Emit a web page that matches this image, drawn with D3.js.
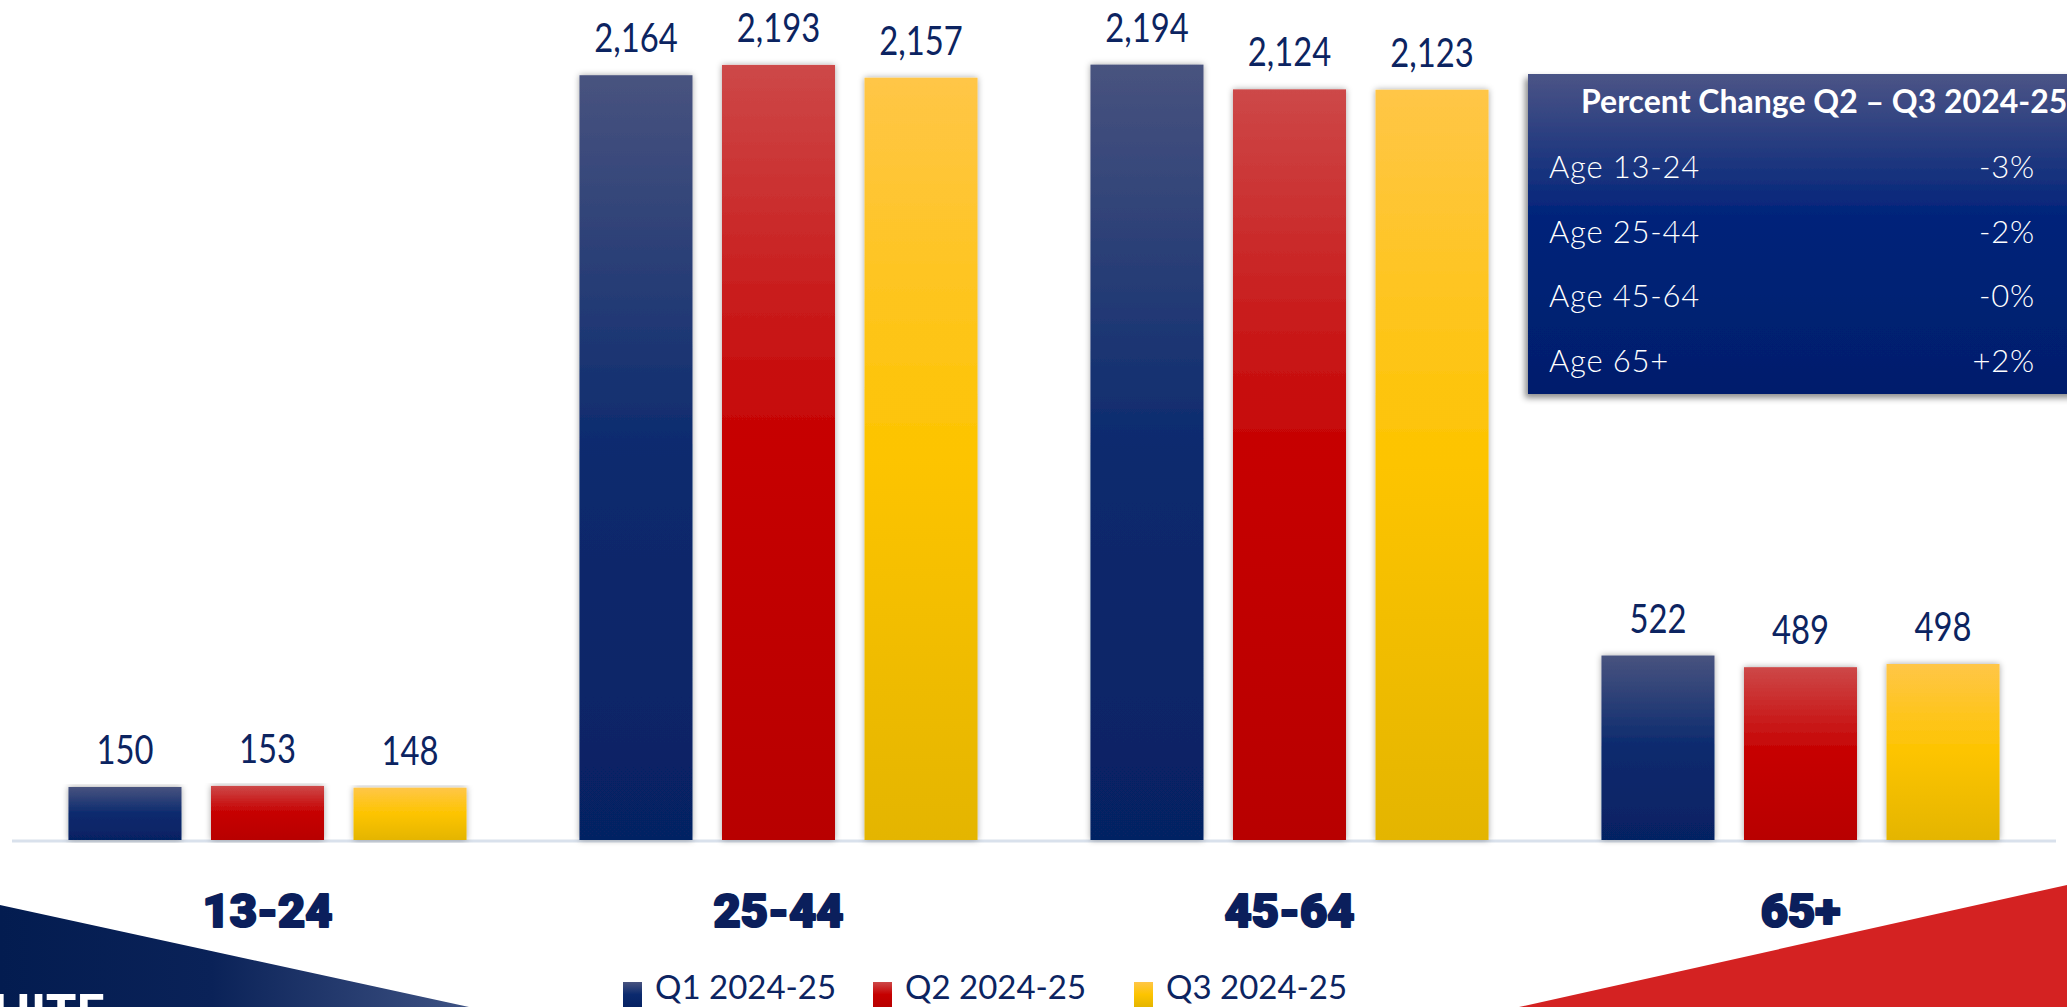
<!DOCTYPE html>
<html>
<head>
<meta charset="utf-8">
<script src="https://cdn.jsdelivr.net/npm/d3@7"></script>
<style>
  html, body { margin: 0; padding: 0; background: #ffffff; overflow: hidden; }
  svg { display: block; }
</style>
</head>
<body>
<svg id="chart" width="2067" height="1007"></svg>
<script>
// ---- data ----
const categories = ["13-24", "25-44", "45-64", "65+"];
const seriesNames = ["Q1 2024-25", "Q2 2024-25", "Q3 2024-25"];
const q1Values = [150, 2164, 2194, 522];
const q2Values = [153, 2193, 2124, 489];
const q3Values = [148, 2157, 2123, 498];
const changeLabels = ["Age 13-24", "Age 25-44", "Age 45-64", "Age 65+"];
const changeTitle = "Percent Change Q2 \u2013 Q3 2024-25";
const cornerText = "WHITE";

// gradient stops (top, middle, bottom) for each series
const seriesColors = [
  ["#48537f", "#0b2a6e", "#062263"],
  ["#cd4848", "#c60000", "#b80000"],
  ["#ffc647", "#fdc400", "#e4b500"]
];

const W = 2067, H = 1007;
const svg = d3.select("#chart");
const defs = svg.append("defs");

// bar gradients
seriesColors.forEach((c, i) => {
  const g = defs.append("linearGradient").attr("id", "bar" + i)
    .attr("x1", 0).attr("y1", 0).attr("x2", 0).attr("y2", 1);
  g.append("stop").attr("offset", "0%").attr("stop-color", c[0]);
  g.append("stop").attr("offset", "50%").attr("stop-color", c[1]);
  g.append("stop").attr("offset", "100%").attr("stop-color", c[2]);
});

// soft shadow behind bars
const f = defs.append("filter").attr("id", "barShadow")
  .attr("x", "-20%").attr("y", "-5%").attr("width", "140%").attr("height", "110%");
f.append("feDropShadow").attr("dx", 0).attr("dy", 0).attr("stdDeviation", 3)
  .attr("flood-color", "#000").attr("flood-opacity", 0.35);

// shadow behind the summary panel
const f2 = defs.append("filter").attr("id", "panelShadow")
  .attr("x", "-10%").attr("y", "-10%").attr("width", "120%").attr("height", "130%");
f2.append("feDropShadow").attr("dx", -3).attr("dy", 4).attr("stdDeviation", 3)
  .attr("flood-color", "#000").attr("flood-opacity", 0.45);

// panel gradient
const pg = defs.append("linearGradient").attr("id", "panelGrad")
  .attr("x1", 0).attr("y1", 0).attr("x2", 0).attr("y2", 1);
pg.append("stop").attr("offset", "0%").attr("stop-color", "#4b5486");
pg.append("stop").attr("offset", "45%").attr("stop-color", "#00237a");
pg.append("stop").attr("offset", "100%").attr("stop-color", "#001e6c");

// corner decoration gradient
const cg = defs.append("linearGradient").attr("id", "cornerGrad")
  .attr("x1", 0).attr("y1", 0).attr("x2", 1).attr("y2", 0);
cg.append("stop").attr("offset", "0%").attr("stop-color", "#031c50");
cg.append("stop").attr("offset", "45%").attr("stop-color", "#0a2258");
cg.append("stop").attr("offset", "100%").attr("stop-color", "#3e5283");

// ---- corner decorations ----
svg.append("polygon")
  .attr("points", [[0, 905], [469, 1007], [0, 1007]].map(p => p.join(",")).join(" "))
  .attr("fill", "url(#cornerGrad)");
svg.append("text")
  .attr("x", 105).attr("y", 1030)
  .attr("text-anchor", "end")
  .attr("font-family", "Lato, 'Open Sans', sans-serif")
  .attr("font-weight", 900)
  .attr("font-size", 50)
  .attr("fill", "#ffffff")
  .text(cornerText);
svg.append("polygon")
  .attr("points", [[1519, 1007], [2067, 885], [2067, 1007]].map(p => p.join(",")).join(" "))
  .attr("fill", "#d42222");

// ---- scales ----
const x0 = d3.scaleBand().domain(categories).range([12, 2056])
  .paddingInner(0.221).paddingOuter(0.1105);
const x1 = d3.scaleBand().domain(seriesNames).range([0, x0.bandwidth()])
  .paddingInner(0.207).paddingOuter(0);
const y = d3.scaleLinear().domain([0, 2200]).range([840, 62.5]);

const rows = categories.map((c, i) => ({
  cat: c,
  vals: [q1Values[i], q2Values[i], q3Values[i]]
}));

// baseline
svg.append("line")
  .attr("x1", x0.range()[0]).attr("x2", x0.range()[1])
  .attr("y1", y(0) + 1).attr("y2", y(0) + 1)
  .attr("stroke", "#d9e1ec").attr("stroke-width", 3);

// bars
const groups = svg.append("g").selectAll("g").data(rows).join("g")
  .attr("transform", d => `translate(${x0(d.cat)},0)`);

groups.selectAll("rect")
  .data(d => d.vals.map((v, i) => ({ v, s: seriesNames[i], i })))
  .join("rect")
  .attr("x", d => x1(d.s))
  .attr("y", d => y(d.v))
  .attr("width", x1.bandwidth())
  .attr("height", d => y(0) - y(d.v))
  .attr("fill", d => `url(#bar${d.i})`)
  .attr("filter", "url(#barShadow)");

// value labels (slightly condensed)
const fmt = d3.format(",");
groups.selectAll("g.lbl")
  .data(d => d.vals.map((v, i) => ({ v, s: seriesNames[i] })))
  .join("g").attr("class", "lbl")
  .attr("transform", d => `translate(${x1(d.s) + x1.bandwidth() / 2},${y(d.v) - 23}) scale(0.82,1)`)
  .append("text")
  .attr("text-anchor", "middle")
  .attr("font-family", "Lato, 'Open Sans', sans-serif")
  .attr("font-size", 40)
  .attr("fill", "#0c2461")
  .text(d => fmt(d.v));

// category axis
const xAxis = d3.axisBottom(x0).tickSize(0).tickPadding(0);
const axisG = svg.append("g").attr("transform", "translate(0,927)").call(xAxis);
axisG.select(".domain").remove();
axisG.selectAll("text")
  .attr("dy", 0)
  .attr("font-family", "Roboto, Lato, sans-serif")
  .attr("font-weight", 900)
  .attr("font-size", 47)
  .attr("fill", "#0b1f5c")
  .attr("stroke", "#0b1f5c")
  .attr("stroke-width", 2.2)
  .attr("stroke-linejoin", "round")
  .attr("paint-order", "stroke");

// legend
const legendX = [623, 873, 1134];
const legend = svg.append("g").selectAll("g").data(seriesNames).join("g")
  .attr("transform", (d, i) => `translate(${legendX[i]},0)`);
legend.append("rect")
  .attr("x", 0).attr("y", 982).attr("width", 19).attr("height", 25)
  .attr("fill", (d, i) => `url(#bar${i})`);
legend.append("text")
  .attr("x", 32).attr("y", 999)
  .attr("font-family", "Lato, 'Open Sans', sans-serif")
  .attr("font-size", 33)
  .attr("fill", "#0c2461")
  .text(d => d);

// ---- percent change panel ----
const pctFmt = d3.formatLocale({
  decimal: ".", thousands: ",", grouping: [3], currency: ["$", ""], minus: "-"
}).format("+.0%");
const changes = q2Values.map((v, i) => pctFmt((q3Values[i] - v) / v));

const panel = svg.append("g");
panel.append("rect")
  .attr("x", 1528).attr("y", 74).attr("width", 600).attr("height", 320)
  .attr("fill", "url(#panelGrad)")
  .attr("filter", "url(#panelShadow)");
panel.append("text")
  .attr("x", 1581).attr("y", 113)
  .attr("font-family", "Lato, 'Open Sans', sans-serif")
  .attr("font-weight", 700)
  .attr("font-size", 32)
  .attr("fill", "#ffffff")
  .text(changeTitle);

const rowY = d3.scalePoint().domain(changeLabels).range([178, 372]);
panel.selectAll("text.rowLabel").data(changeLabels).join("text")
  .attr("class", "rowLabel")
  .attr("x", 1549).attr("y", d => rowY(d))
  .attr("font-family", "Lato, 'Open Sans', sans-serif")
  .attr("font-weight", 300)
  .attr("font-size", 31)
  .attr("letter-spacing", 0.8)
  .attr("fill", "#ffffff")
  .text(d => d);
panel.selectAll("text.rowValue").data(changes).join("text")
  .attr("class", "rowValue")
  .attr("x", 2035).attr("y", (d, i) => rowY(changeLabels[i]))
  .attr("text-anchor", "end")
  .attr("font-family", "Lato, 'Open Sans', sans-serif")
  .attr("font-weight", 300)
  .attr("font-size", 31)
  .attr("letter-spacing", 0.8)
  .attr("fill", "#ffffff")
  .text(d => d);
</script>
</body>
</html>
